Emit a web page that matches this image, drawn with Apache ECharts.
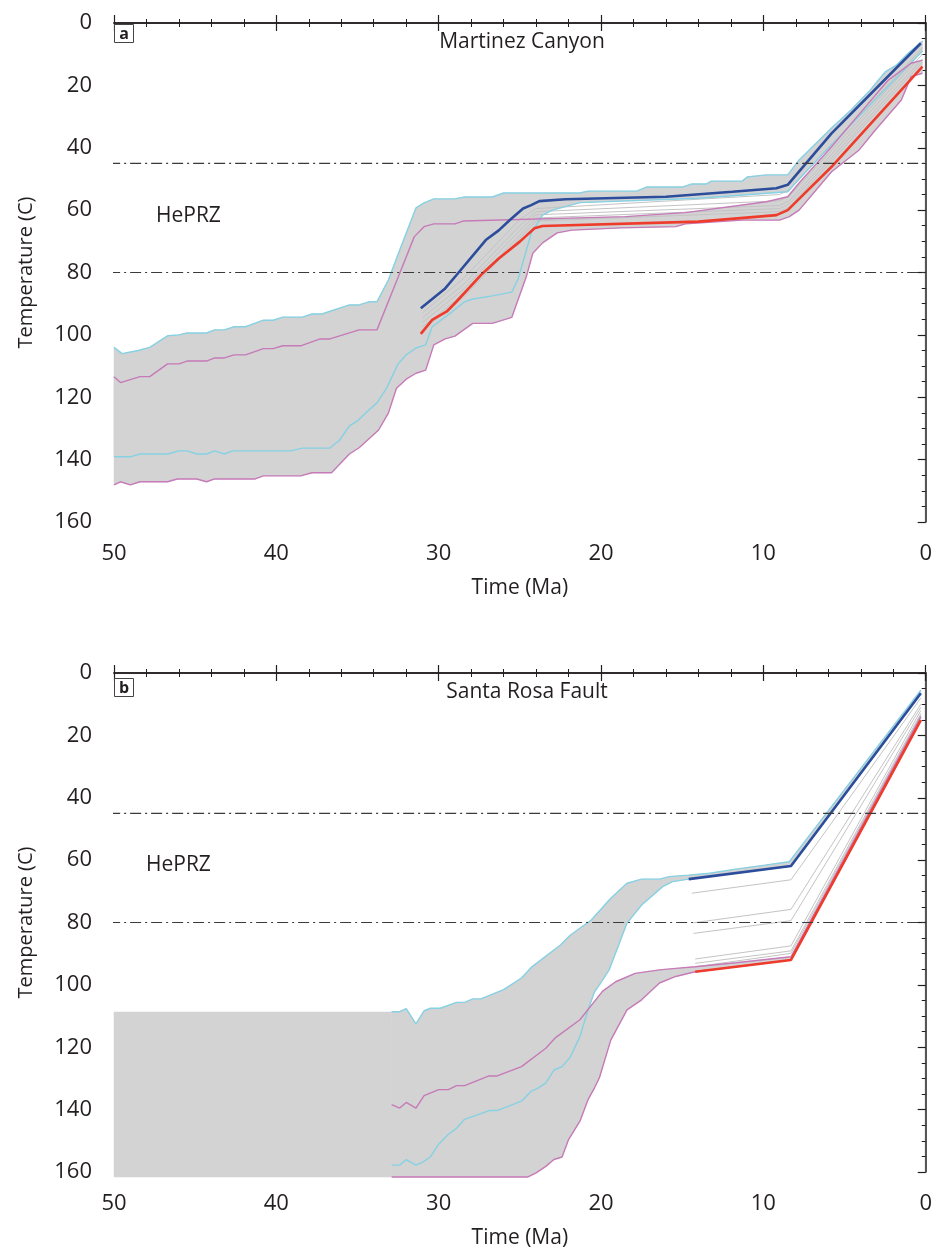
<!DOCTYPE html>
<html>
<head>
<meta charset="utf-8">
<script src="https://cdn.jsdelivr.net/npm/echarts@6/dist/echarts.min.js"></script>
<style>html,body{margin:0;padding:0;background:#fff}#c{width:935px;height:1251px}</style>
</head>
<body>
<div id="c"></div>
<script>
// ---------- data: [time (Ma), temperature (C)] ----------
var xTicks = [50, 40, 30, 20, 10, 0];
var yTicks = [0, 20, 40, 60, 80, 100, 120, 140, 160];
var hePRZ = [45, 80];
var panelTitles = ['Martinez Canyon', 'Santa Rosa Fault'];
var panelLetters = ['a', 'b'];

// Panel a — Martinez Canyon
var aCyanUpper = [[50,104],[49.5,106],[48.5,105],[47.8,104],[46.7,100.3],[46,100],[45.5,99.4],[44.3,99.4],[43.8,98.4],[43.2,98.4],[42.6,97.4],[41.9,97.4],[40.8,95.3],[40.2,95.3],[39.6,94.3],[38.4,94.3],[37.8,93.3],[37.2,93.3],[35.5,90.4],[34.9,90.4],[34.3,89.4],[33.8,89.4],[33.1,82.4],[32.4,72.8],[31.4,59.3],[30.9,57.7],[30.3,56.4],[29,56.4],[28.4,55.8],[26.7,55.8],[26,54.5],[21.3,54.5],[20.8,53.9],[17.8,53.9],[17.2,52.6],[15,52.6],[14.4,51.6],[13.5,51.6],[13.2,50.7],[11.3,50.7],[11,49.4],[9.8,48.7],[8.5,48.7],[7.8,43.9],[5.8,33.7],[4.6,27.9],[3.5,22],[2.5,15.7],[1.8,13.5],[1.2,10.3],[0.2,5.8]];
var aCyanLower = [[50,139.1],[49,139.1],[48.4,138.2],[46.7,138.2],[46,137.2],[45.5,137.2],[44.9,138.2],[44.3,138.2],[43.8,137.2],[43.2,138.2],[42.7,137.2],[39.1,137.2],[38.4,136.3],[36.7,136.3],[36.1,133.7],[35.5,129.2],[35,127.6],[34.3,124.1],[33.8,121.8],[33.2,117],[32.5,109.3],[32,106.4],[31.4,104.2],[30.8,103.2],[30.4,97.4],[29.2,92.7],[28.4,89.4],[27.9,88.5],[26.7,87.5],[25.5,86.3],[25.1,82],[24.3,67.4],[23.6,61.6],[23,60],[21.3,57.6],[14,56.2],[8.5,54.1],[7.8,50],[5.8,39],[0.2,9]];
var aMagUpper = [[50,113.4],[49.6,115.3],[48.4,113.4],[47.8,113.4],[46.7,109.3],[46,109.3],[45.5,108.4],[44.3,108.4],[43.8,107.4],[43.2,107.4],[42.6,106.4],[41.9,106.4],[40.8,104.4],[40.2,104.4],[39.6,103.5],[38.5,103.5],[37.3,101.3],[36.7,101.3],[34.9,98.4],[33.8,98.4],[32.5,81.5],[31.5,68.5],[30.9,65.3],[30.3,64.4],[29,64.4],[28.5,63.5],[18.5,62.1],[14.8,60.8],[9.8,57.3],[8.5,55.7],[7.8,51.3],[5.8,39.7],[3.7,26.8],[2.3,18.3],[0.9,12.9],[0.2,11.9]];
var aMagLower = [[50,148.1],[49.6,147.1],[49,148.1],[48.4,147.1],[46.7,147.1],[46.1,146.2],[44.9,146.2],[44.3,147.1],[43.8,146.2],[41.3,146.2],[40.8,145.2],[38.5,145.2],[37.8,144.2],[36.6,144.2],[35.5,138.2],[34.9,136.2],[33.7,130.5],[33.1,125.1],[32.6,117.1],[32,114.2],[31.4,112.3],[30.8,111.3],[30.3,103.2],[29.6,101.3],[29,100.4],[27.9,96.3],[26.7,96.3],[25.5,94.4],[24.6,81.3],[24.2,73.8],[23.6,70.5],[22.7,67.3],[21.8,66.4],[18.8,65.7],[15.4,65.3],[14.8,64.4],[11.3,63.2],[9,63.2],[8.4,62.1],[7.8,60],[5.8,47.7],[4.1,40.7],[3.1,34.3],[2.3,29.5],[1.5,24.7],[0.9,17.2],[0.2,16.1]];
var aBlue = [[31.1,91.5],[29.6,85.1],[28.9,80.8],[27.1,69.6],[26.3,66.5],[25.6,63.1],[24.8,59.5],[24.3,58.4],[23.8,57.1],[22.2,56.5],[16,55.7],[11.9,54.1],[9.2,53],[8.5,51.9],[5.8,35.4],[0.3,6.5]];
var aRed = [[31.1,99.7],[30.4,95.2],[29.5,92.5],[28.9,89.3],[27.3,80.3],[26.3,75.5],[25,70.1],[24.1,65.8],[23.6,65.1],[14,63.7],[9.2,61.6],[8.5,60],[5.8,46.1],[0.2,14]];
var aGray1 = [[31,93],[28.5,82],[25,63],[24,59.5],[9,55],[8.4,53.5],[0.2,8]];
var aGray2 = [[31,94.5],[28.5,84],[25,65],[24,60.5],[9,57],[8.4,55.5],[0.2,9]];
var aGray3 = [[31,96],[28.5,85.5],[25,66.5],[24,61.5],[9,58.5],[8.4,57],[0.2,10]];
var aGray4 = [[31,97.5],[28.5,87],[25,68],[24,62.5],[9,59.5],[8.4,58],[0.2,11.5]];
var aGray5 = [[31,98.5],[28.5,88],[25,69],[24,63.5],[9,60.5],[8.4,59],[0.2,12.5]];

// Panel b — Santa Rosa Fault
var bLeftFillTop = [[50,108.7],[32.9,108.7]];
var bLeftFillBottom = [[50,161.6],[32.9,161.6]];
var bCyanUpper = [[32.9,108.6],[32.4,108.6],[32,107.6],[31.4,112.5],[30.9,108.3],[30.5,107.5],[29.9,107.5],[28.9,105.6],[28.4,105.6],[27.9,104.5],[27.4,104.5],[26,101.5],[24.9,97.8],[24.3,94.4],[22.5,87.2],[21.9,84.1],[20.6,79.2],[19.4,72.2],[18.4,67.4],[17.5,66.1],[16.4,66.1],[15.8,65.3],[14.6,64.8],[13.3,64.2],[11.7,62.9],[9.9,61.6],[8.4,60.5],[0.3,5.5]];
var bCyanLower = [[32.9,157.8],[32.4,157.8],[32,156],[31.4,157.8],[31,156.9],[30.5,155.1],[30,151.1],[29.4,147.9],[28.9,146],[28.4,143.1],[27.4,141.3],[26.9,140.3],[26.4,140.3],[24.9,137.3],[24.3,134.1],[23.9,133.2],[23.4,131.4],[22.9,127.3],[22.4,126.2],[21.9,123.2],[21.3,116.6],[20.8,108],[20.4,102.2],[20.1,100],[19.5,95.2],[18.4,80.2],[17.5,74.4],[16.2,68.5],[15.6,66.9],[14.6,66.1],[8.3,61.9],[0.3,6.5]];
var bMagUpper = [[32.9,138.4],[32.4,139.5],[32,137.7],[31.4,139.5],[30.9,135.5],[30,133.6],[29.4,133.6],[28.9,132.3],[28.4,132.3],[26.9,129.2],[26.4,129.2],[24.9,126.2],[23.4,120.3],[22.8,116.9],[21.3,111.2],[19.9,102],[19.1,99],[17.9,96.3],[16.4,95.2],[15.4,94.7],[14.2,94.2],[11.7,92.9],[8.3,91],[0.3,14]];
var bMagLower = [[32.9,161.6],[24.5,161.6],[24,160.3],[23.4,158.2],[22.9,156],[22.4,155.2],[22,149.6],[21.3,143.7],[20.8,136.8],[20.4,133],[20.1,129.8],[19.4,117.7],[18.4,108],[17.5,104.8],[16.4,99.4],[15.4,97.3],[14.2,95.8],[8.3,92],[0.3,15.1]];
var bBlue = [[14.6,66.1],[8.3,61.9],[0.3,6.5]];
var bRed = [[14.2,95.8],[8.3,92],[0.3,15.1]];
var bGray1 = [[14.4,70.6],[8.3,66.3],[0.3,8]];
var bGray2 = [[14.3,80.1],[8.3,75.8],[0.3,10]];
var bGray3 = [[14.3,83.5],[8.3,79.4],[0.3,11]];
var bGray4 = [[14.2,91.7],[8.3,87.5],[0.3,12]];
var bGray5 = [[14.2,93.1],[8.3,89.1],[0.3,13]];
var bGray6 = [[14.2,94.2],[8.3,89.9],[0.3,13.5]];

// ---------- styles ----------
var INK = '#231f20';
var FILL = '#d3d3d3';
var CYAN = '#86d1e3';
var MAG = '#c67ab8';
var BLUE = '#2c4d9c';
var RED = '#ee3b2b';
var GRAYL = '#c4c4c4';
var TICKFONT = "'Liberation Sans Narrow', 'Open Sans', 'Noto Sans', sans-serif";
var TEXTFONT = "'Open Sans', 'Noto Sans', sans-serif";

var grids = [
  {left: 114, right: 8, top: 23, height: 499},
  {left: 114, right: 8, top: 673, height: 499}
];

var xAxes = [], yAxes = [];
grids.forEach(function (g, gi) {
  xAxes.push({
    gridIndex: gi, type: 'value', min: 0, max: 50, interval: 10, inverse: true,
    position: 'bottom', offset: 7,
    name: 'Time (Ma)', nameLocation: 'middle', nameGap: 49,
    nameTextStyle: {fontFamily: TEXTFONT, fontSize: 21, color: INK},
    axisLine: {show: true, lineStyle: {color: INK, width: 1.5}},
    axisTick: {show: true, length: 8, lineStyle: {color: INK, width: 1.2}},
    minorTick: {show: true, splitNumber: 5, length: 4, lineStyle: {color: INK, width: 1}},
    axisLabel: {fontFamily: TICKFONT, fontSize: 22, color: INK, margin: 14, showMinLabel: true, showMaxLabel: true},
    splitLine: {show: false}, minorSplitLine: {show: false}
  });
  xAxes.push({
    gridIndex: gi, type: 'value', min: 0, max: 50, interval: 10, inverse: true,
    position: 'top', offset: 7,
    axisLine: {show: true, lineStyle: {color: INK, width: 1.5}},
    axisTick: {show: true, length: 8, lineStyle: {color: INK, width: 1.2}},
    minorTick: {show: true, splitNumber: 5, length: 4, lineStyle: {color: INK, width: 1}},
    axisLabel: {show: false},
    splitLine: {show: false}, minorSplitLine: {show: false}
  });
  yAxes.push({
    gridIndex: gi, type: 'value', min: 0, max: 160, interval: 20, inverse: true,
    position: 'left', offset: 8,
    name: 'Temperature (C)', nameLocation: 'middle', nameGap: 70, nameRotate: 90,
    nameTextStyle: {fontFamily: TEXTFONT, fontSize: 20, color: INK},
    axisLine: {show: true, lineStyle: {color: INK, width: 1.5}},
    axisTick: {show: true, length: 8, lineStyle: {color: INK, width: 1.2}},
    minorTick: {show: true, splitNumber: 4, length: 4, lineStyle: {color: INK, width: 1}},
    axisLabel: {fontFamily: TICKFONT, fontSize: 22, color: INK, margin: 14, showMinLabel: true, showMaxLabel: true},
    splitLine: {show: false}, minorSplitLine: {show: false}
  });
  yAxes.push({
    gridIndex: gi, type: 'value', min: 0, max: 160, inverse: true,
    position: 'right', offset: 4,
    axisLine: {show: true, lineStyle: {color: '#555', width: 1.2}},
    axisTick: {show: false}, axisLabel: {show: false},
    splitLine: {show: false}
  });
});

function band(gi, upper, lower) {
  return {
    type: 'custom', xAxisIndex: gi * 2, yAxisIndex: gi * 2, data: [0], silent: true, z: 1,
    clip: false,
    renderItem: function (params, api) {
      var pts = upper.concat(lower.slice().reverse()).map(function (p) { return api.coord(p); });
      return {type: 'polygon', shape: {points: pts}, style: {fill: FILL, stroke: FILL, lineWidth: 0.5}};
    }
  };
}
function line(gi, data, color, width, z) {
  return {
    type: 'line', xAxisIndex: gi * 2, yAxisIndex: gi * 2, data: data,
    showSymbol: false, symbol: 'none', silent: true, clip: false, z: z,
    lineStyle: {color: color, width: width}
  };
}
function refLine(gi, T) {
  return {
    type: 'line', xAxisIndex: gi * 2, yAxisIndex: gi * 2, data: [[50.3, T], [-0.2, T]],
    showSymbol: false, symbol: 'none', silent: true, clip: false, z: 6,
    lineStyle: {color: '#3a3a3a', width: 1.2, type: [11, 4, 2, 4]}
  };
}

var series = [];
// panel a
series.push(band(0, aCyanUpper, aCyanLower));
series.push(band(0, aMagUpper, aMagLower));
[aGray1, aGray2, aGray3, aGray4, aGray5].forEach(function (d) { series.push(line(0, d, GRAYL, 1, 3)); });
series.push(line(0, aCyanUpper, CYAN, 1.4, 4));
series.push(line(0, aCyanLower, CYAN, 1.4, 4));
series.push(line(0, aMagUpper, MAG, 1.4, 4));
series.push(line(0, aMagLower, MAG, 1.4, 4));
series.push(line(0, aBlue, BLUE, 2.6, 5));
series.push(line(0, aRed, RED, 2.6, 5));
hePRZ.forEach(function (T) { series.push(refLine(0, T)); });
// panel b
series.push(band(1, bLeftFillTop, bLeftFillBottom));
series.push(band(1, bCyanUpper, bCyanLower));
series.push(band(1, bMagUpper, bMagLower));
[bGray1, bGray2, bGray3, bGray4, bGray5, bGray6].forEach(function (d) { series.push(line(1, d, GRAYL, 1, 3)); });
series.push(line(1, bCyanUpper, CYAN, 1.4, 4));
series.push(line(1, bCyanLower, CYAN, 1.4, 4));
series.push(line(1, bMagUpper, MAG, 1.4, 4));
series.push(line(1, bMagLower, MAG, 1.4, 4));
series.push(line(1, bBlue, BLUE, 2.6, 5));
series.push(line(1, bRed, RED, 2.6, 5));
hePRZ.forEach(function (T) { series.push(refLine(1, T)); });

var titles = [
  {text: panelTitles[0], left: 517, top: 27, textAlign: 'center',
   textStyle: {fontFamily: TEXTFONT, fontSize: 21, fontWeight: 'normal', color: INK}},
  {text: panelTitles[1], left: 522, top: 677, textAlign: 'center',
   textStyle: {fontFamily: TEXTFONT, fontSize: 21, fontWeight: 'normal', color: INK}}
];

var graphic = [
  {type: 'rect', shape: {x: 114.5, y: 24.5, width: 19, height: 18}, style: {fill: '#fff', stroke: '#444', lineWidth: 1}, z: 10},
  {type: 'text', x: 124, y: 34, style: {text: panelLetters[0], fontFamily: TEXTFONT, fontSize: 16, fontWeight: 'bold', fill: INK, align: 'center', verticalAlign: 'middle'}, z: 11},
  {type: 'rect', shape: {x: 114.5, y: 678.5, width: 19, height: 18}, style: {fill: '#fff', stroke: '#444', lineWidth: 1}, z: 10},
  {type: 'text', x: 124, y: 688, style: {text: panelLetters[1], fontFamily: TEXTFONT, fontSize: 16, fontWeight: 'bold', fill: INK, align: 'center', verticalAlign: 'middle'}, z: 11},
  {type: 'text', x: 156, y: 216, style: {text: 'HePRZ', fontFamily: TEXTFONT, fontSize: 21, fill: INK, align: 'left', verticalAlign: 'middle'}, z: 11},
  {type: 'text', x: 146, y: 865, style: {text: 'HePRZ', fontFamily: TEXTFONT, fontSize: 21, fill: INK, align: 'left', verticalAlign: 'middle'}, z: 11}
];

var chart = echarts.init(document.getElementById('c'), null, {renderer: 'canvas'});
chart.setOption({
  animation: false,
  backgroundColor: '#ffffff',
  title: titles,
  grid: grids,
  xAxis: xAxes,
  yAxis: yAxes,
  series: series,
  graphic: graphic
});
</script>
</body>
</html>
